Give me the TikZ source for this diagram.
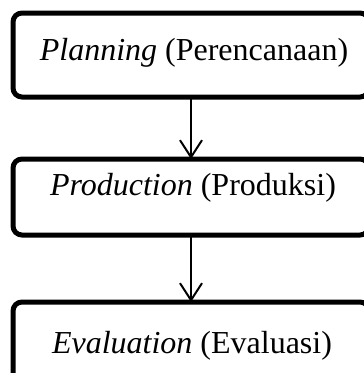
\documentclass[tikz,border=0pt]{standalone}
\usepackage{fontspec}
\setmainfont{Liberation Serif}
\usetikzlibrary{arrows.meta}
\begin{document}
\begin{tikzpicture}[x=1pt,y=1pt,
  box/.style={draw=black, line width=5pt, rounded corners=9pt, outer sep=0pt,
    minimum width=356pt, inner sep=0pt},
  lbl/.style={anchor=base, inner sep=0pt, font=\fontsize{32}{38}\selectfont},
  conn/.style={line width=2pt, -{Straight Barb[length=17pt,width=22pt,line width=2pt]}}]
\useasboundingbox (0,0) rectangle (364,-373);
\clip (0,0) rectangle (364,-373);
\node[box, minimum height=84pt] (b1) at (191,-55) {};
\node[box, minimum height=76pt] (b2) at (191,-197) {};
\node[box, minimum height=98pt] (b3) at (191,-351) {};
\node[lbl] (t1) at (194,-60) {\textit{Planning} (Perencanaan)};
\node[lbl] (t2) at (193,-195) {\textit{Production} (Produksi)};
\node[lbl] (t3) at (192,-353) {\textit{Evaluation} (Evaluasi)};
\draw[conn] (b1.south) -- (b2.north);
\draw[conn] (b2.south) -- (b3.north);
\end{tikzpicture}
\end{document}
